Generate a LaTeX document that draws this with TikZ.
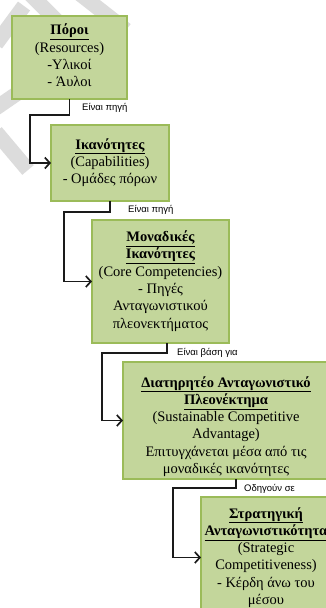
\documentclass[tikz,border=0pt]{standalone}
\usepackage{fontspec}
\setmainfont{Liberation Serif}
\newfontfamily\labfont{Liberation Sans}
\usetikzlibrary{arrows.meta}
\definecolor{boxfill}{HTML}{C3D69B}
\definecolor{boxline}{HTML}{9BBB59}
\definecolor{wm}{HTML}{DCDCDC}
\definecolor{conncol}{HTML}{1A1A1A}
\begin{document}
\begin{tikzpicture}[x=1pt,y=-1pt,
  box/.style={draw=boxline, line width=2.2pt, fill=boxfill, inner sep=0pt, outer sep=0pt},
  txt/.style={align=center, font=\fontsize{14.5}{17.3}\selectfont, inner sep=0pt},
  conn/.style={draw=conncol, line width=1.7pt, -{Straight Barb[length=5pt,width=11pt,line width=1.7pt]}},
  lab/.style={font=\labfont\fontsize{9.5}{11}\selectfont, anchor=west, inner sep=0pt, text=black},
  wmark/.style={draw=wm, line width=15pt}]
\clip (0,0) rectangle (326,608);
\fill[white] (0,0) rectangle (326,608);
% watermark stripes
\draw[wmark] (-4,44) -- (24,6);
\draw[wmark] (30,-6) -- (60,24);
\draw[wmark] (80,-6) -- (126,30);
\draw[wmark] (-4,108) -- (28,86);
\draw[wmark] (-4,132) -- (28,170);
% boxes
\node[box, minimum width=115pt, minimum height=83pt] (b1) at (69.5,57.5) {};
\node[box, minimum width=118pt, minimum height=76pt] (b2) at (110,163) {};
\node[box, minimum width=137pt, minimum height=123pt] (b3) at (160.5,281.5) {};
\node[box, minimum width=206pt, minimum height=117pt] (b4) at (226,420.5) {};
\node[box, minimum width=130pt, minimum height=121pt] (b5) at (266,557.5) {};
% texts
\node[txt] (t1) at (69.5,55.5) {\underline{\textbf{Πόροι}}\\(Resources)\\-Υλικοί\\- Άυλοι};
\node[txt] (t2) at (110,162.5) {\underline{\textbf{Ικανότητες}}\\(Capabilities)\\- Ομάδες πόρων};
\node[txt] (t3) at (160.5,281) {\underline{\textbf{Μοναδικές}}\\\underline{\textbf{Ικανότητες}}\\(Core Competencies)\\- Πηγές\\Ανταγωνιστικού\\πλεονεκτήματος};
\node[txt] (t4) at (226,426.5) {\underline{\textbf{Διατηρητέο Ανταγωνιστικό}}\\\underline{\textbf{Πλεονέκτημα}}\\(Sustainable Competitive\\Advantage)\\Επιτυγχάνεται μέσα από τις\\μοναδικές ικανότητες};
\node[txt] (t5) at (266,557.5) {\underline{\textbf{Στρατηγική}}\\\underline{\textbf{Ανταγωνιστικότητα}}\\(Strategic\\Competitiveness)\\- Κέρδη άνω του\\μέσου};
% bend points
\coordinate (k1) at (30,115);
\coordinate (k2) at (64,212);
\coordinate (k3) at (102,353);
\coordinate (k4) at (173,488);
% connectors
\draw[conn] (b1.south) |- (k1) |- (b2.west);
\draw[conn] (b2.south) |- (k2) |- (b3.west);
\draw[conn] ([xshift=6.5pt]b3.south) |- (k3) |- (b4.west);
\draw[conn] ([xshift=10pt]b4.south) |- (k4) |- (b5.west);
% labels
\node[lab] (l1) at (82,108) {Είναι πηγή};
\node[lab] (l2) at (128,210) {Είναι πηγή};
\node[lab] (l3) at (177,353) {Είναι βάση για};
\node[lab] (l4) at (244,489) {Οδηγούν σε};
\end{tikzpicture}
\end{document}
